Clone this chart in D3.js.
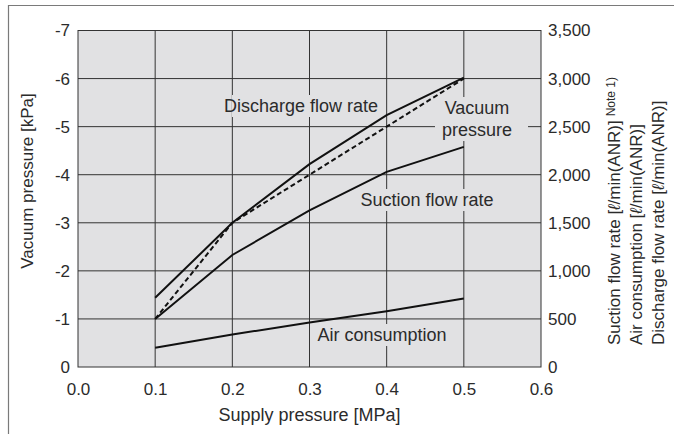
<!DOCTYPE html>
<html>
<head>
<meta charset="utf-8">
<script src="https://cdn.jsdelivr.net/npm/d3@7"></script>
<style>
  body { margin: 0; background: #fff; }
  svg text { font-family: "Liberation Sans", Arial, Helvetica, sans-serif; fill: #2b2b2b; }
</style>
</head>
<body>
<script>
// supply pressure [MPa]
var supply = [0.1, 0.2, 0.3, 0.4, 0.5];
// vacuum pressure [kPa] (left axis)
var vacuumPressure = [-1.0, -3.0, -4.0, -5.0, -6.0];
// flow rates [l/min(ANR)] (right axis)
var dischargeFlow = [720, 1500, 2110, 2620, 3010];
var suctionFlow = [500, 1165, 1630, 2030, 2290];
var airConsumption = [200, 338, 462, 580, 712];

var xTicks = [0, 0.1, 0.2, 0.3, 0.4, 0.5, 0.6];
var leftTicks = [0, -1, -2, -3, -4, -5, -6, -7];
var rightTicks = [0, 500, 1000, 1500, 2000, 2500, 3000, 3500];

function drawChart() {
    var width = 676, height = 434;
    var left = 78, right = 541, top = 30.5, bottom = 367;

    var svg = d3.select("body").append("svg")
        .attr("width", width)
        .attr("height", height);

    // outer frame (top and left only)
    svg.append("path")
        .attr("d", "M8.5,434 L8.5,5.5 L674,5.5")
        .attr("fill", "none")
        .attr("stroke", "#7a7a7a")
        .attr("stroke-width", 1.2);

    var x = d3.scaleLinear().domain([0, 0.6]).range([left, right]);
    var yL = d3.scaleLinear().domain([0, -7]).range([bottom, top]);
    var yR = d3.scaleLinear().domain([0, 3500]).range([bottom, top]);

    svg.append("rect")
        .attr("x", left).attr("y", top)
        .attr("width", right - left).attr("height", bottom - top)
        .attr("fill", "#e1e1e3");

    // grid
    svg.append("g").selectAll("line")
        .data(xTicks.slice(1, -1))
        .enter().append("line")
        .attr("x1", function(d) { return x(d); })
        .attr("x2", function(d) { return x(d); })
        .attr("y1", top).attr("y2", bottom)
        .attr("stroke", "#333").attr("stroke-width", 1);

    svg.append("g").selectAll("line")
        .data(leftTicks.slice(1, -1))
        .enter().append("line")
        .attr("x1", left).attr("x2", right)
        .attr("y1", function(d) { return yL(d); })
        .attr("y2", function(d) { return yL(d); })
        .attr("stroke", "#333").attr("stroke-width", 1);

    svg.append("rect")
        .attr("x", left).attr("y", top)
        .attr("width", right - left).attr("height", bottom - top)
        .attr("fill", "none")
        .attr("stroke", "#333").attr("stroke-width", 1);

    // axes
    var xAxis = svg.append("g")
        .attr("transform", "translate(0," + bottom + ")")
        .call(d3.axisBottom(x).tickValues(xTicks).tickSize(0).tickPadding(16)
            .tickFormat(d3.format(".1f")));

    var leftAxis = svg.append("g")
        .attr("transform", "translate(" + left + ",0)")
        .call(d3.axisLeft(yL).tickValues(leftTicks).tickSize(0).tickPadding(8)
            .tickFormat(function(d) { return String(d); }));

    var rightAxis = svg.append("g")
        .attr("transform", "translate(" + right + ",0)")
        .call(d3.axisRight(yR).tickValues(rightTicks).tickSize(0).tickPadding(7)
            .tickFormat(d3.format(",")));

    [xAxis, leftAxis, rightAxis].forEach(function(a) {
        a.select(".domain").remove();
        a.selectAll("text")
            .style("font-size", "17px")
            .style("font-family", "'Liberation Sans', Arial, sans-serif")
            .attr("fill", "#2b2b2b");
    });

    // axis titles
    svg.append("text")
        .attr("x", (left + right) / 2)
        .attr("y", 421)
        .attr("text-anchor", "middle")
        .style("font-size", "18px")
        .text("Supply pressure [MPa]");

    svg.append("text")
        .attr("transform", "translate(33,181) rotate(-90)")
        .attr("text-anchor", "middle")
        .style("font-size", "17px")
        .text("Vacuum pressure [kPa]");

    var rightTitles = [
        { text: "Suction flow rate [", note: true, x: 620 },
        { text: "Air consumption [", note: false, x: 642 },
        { text: "Discharge flow rate [", note: false, x: 664 }
    ];
    rightTitles.forEach(function(t) {
        var txt = svg.append("text")
            .attr("transform", "translate(" + t.x + ",345) rotate(-90)")
            .attr("text-anchor", "start")
            .style("font-size", "17px");
        txt.append("tspan").text(t.text);
        txt.append("tspan").style("font-style", "italic").text("\u2113");
        txt.append("tspan").text("/min(ANR)]");
        if (t.note) {
            txt.append("tspan").attr("dy", -5).attr("dx", 4)
                .style("font-size", "12px").text("Note 1)");
        }
    });

    // label backgrounds, then data lines, then label text
    var labels = [
        { text: ["Discharge flow rate"], x: 301, y: 112, padL: -8, padR: 4 },
        { text: ["Vacuum", "pressure"], x: 477, y: 114, padL: 7, padR: 16 },
        { text: ["Suction flow rate"], x: 427, y: 206, padL: 5, padR: 5 },
        { text: ["Air consumption"], x: 382, y: 341, padL: 5, padR: 5 }
    ];
    var bgLayer = svg.append("g");
    var lineLayer = svg.append("g");
    var textLayer = svg.append("g");

    labels.forEach(function(l) {
        var t = textLayer.append("text")
            .attr("text-anchor", "middle")
            .style("font-size", "18px");
        l.text.forEach(function(s, i) {
            t.append("tspan").attr("x", l.x).attr("y", l.y + i * 22).text(s);
        });
        var b = t.node().getBBox();
        bgLayer.append("rect")
            .attr("x", b.x - l.padL).attr("y", b.y - 1)
            .attr("width", b.width + l.padL + l.padR).attr("height", b.height + 2)
            .attr("fill", "#e1e1e3");
    });

    var lineL = d3.line()
        .x(function(d, i) { return x(supply[i]); })
        .y(function(d) { return yL(d); });
    var lineR = d3.line()
        .x(function(d, i) { return x(supply[i]); })
        .y(function(d) { return yR(d); });

    [dischargeFlow, suctionFlow, airConsumption].forEach(function(s) {
        lineLayer.append("path")
            .datum(s)
            .attr("d", lineR)
            .attr("fill", "none")
            .attr("stroke", "#111")
            .attr("stroke-width", 2);
    });

    lineLayer.append("path")
        .datum(vacuumPressure)
        .attr("d", lineL)
        .attr("fill", "none")
        .attr("stroke", "#111")
        .attr("stroke-width", 2)
        .attr("stroke-dasharray", "5,3");
}

window.onload = function() {
    drawChart();
};
</script>
</body>
</html>
